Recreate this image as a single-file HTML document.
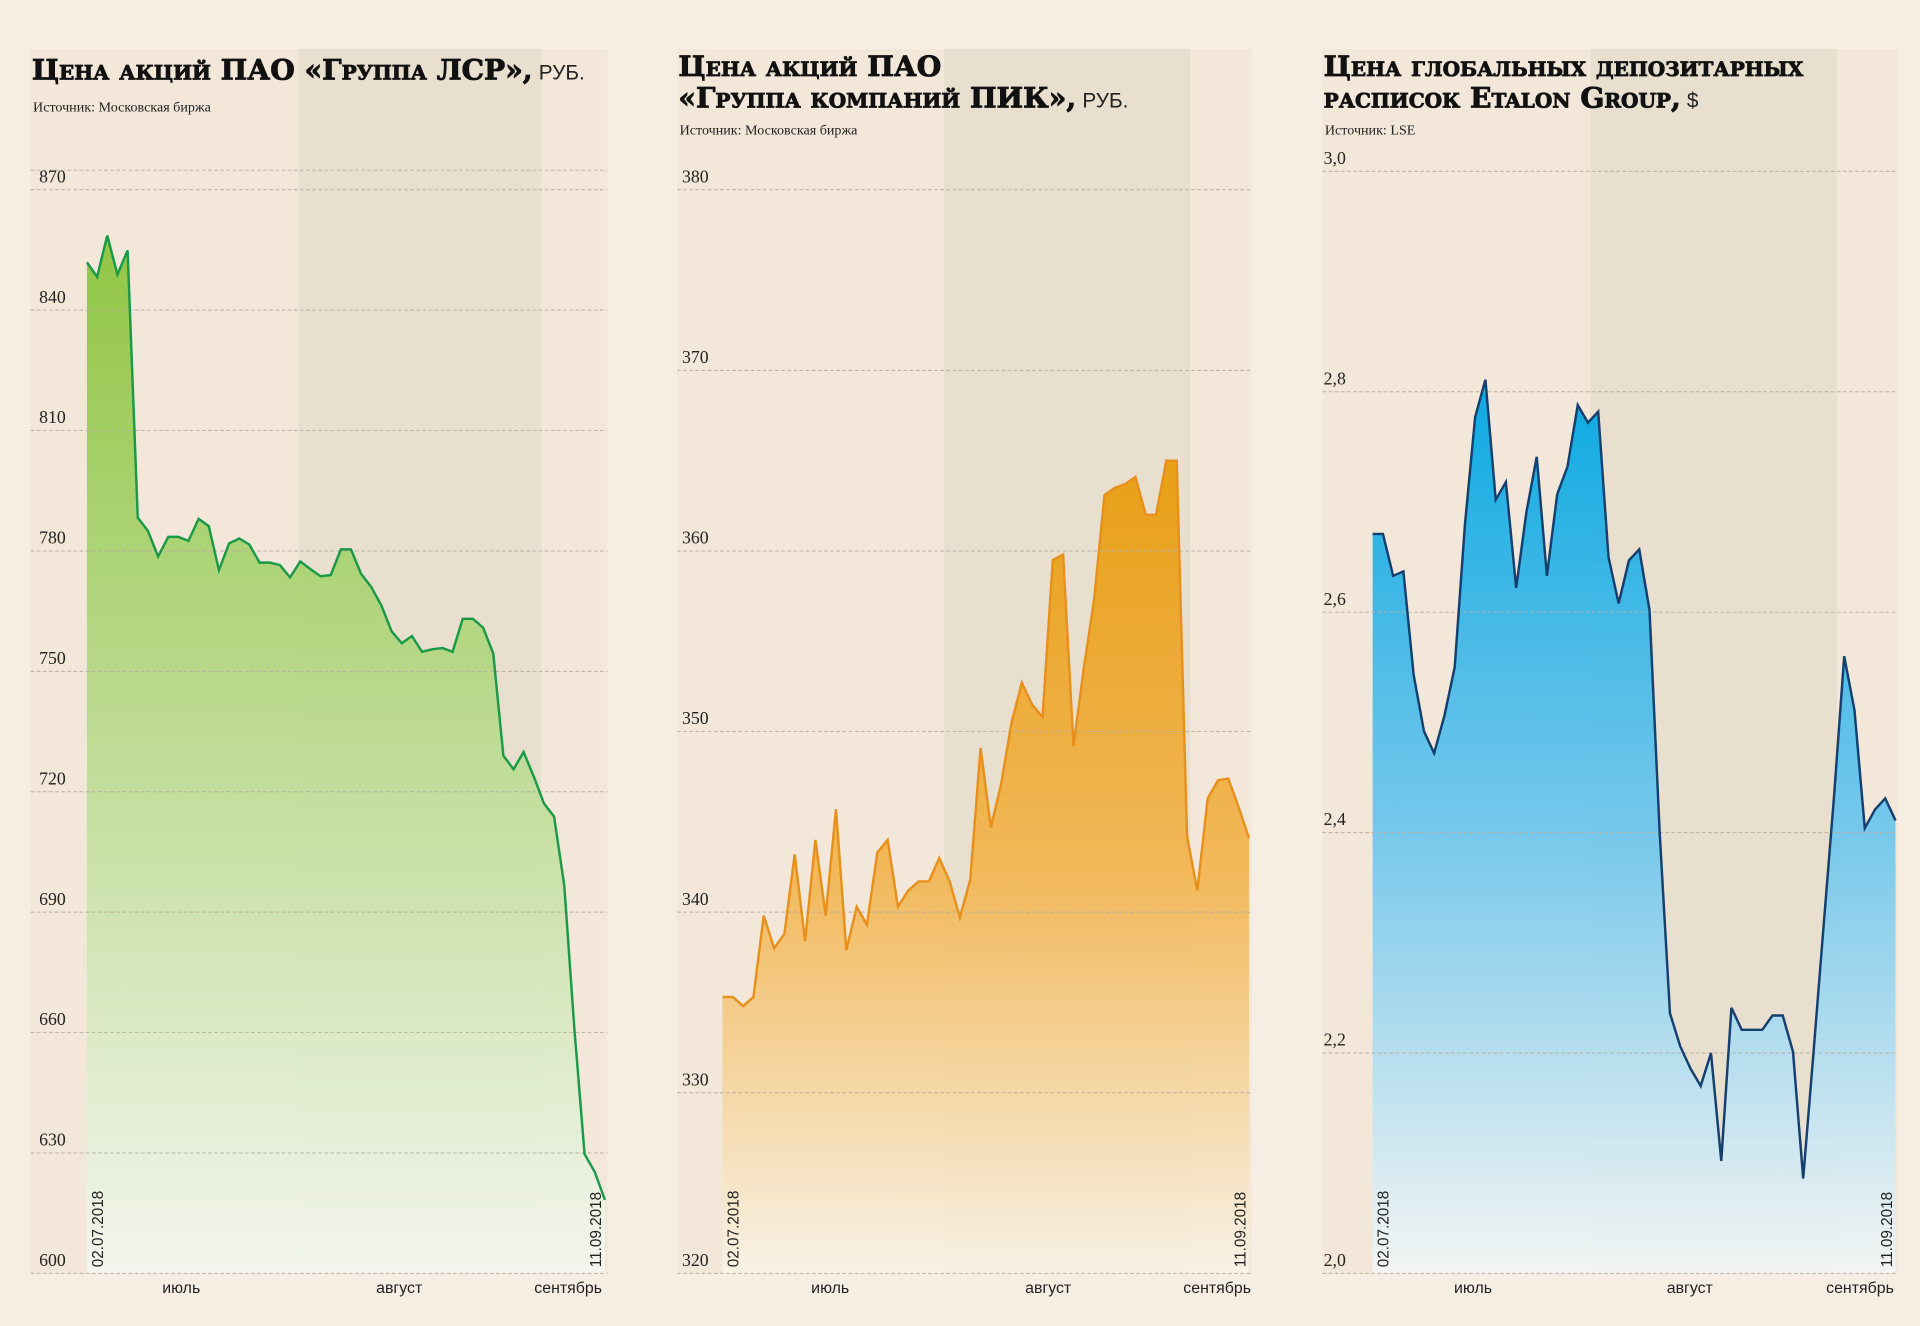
<!DOCTYPE html>
<html><head><meta charset="utf-8"><style>
html,body{margin:0;padding:0;background:#f6eee3;}
svg{display:block}
.title{font-family:"DejaVu Serif","Liberation Serif",serif;font-weight:bold;font-size:23px;font-variant:small-caps;fill:#111;stroke:#111;stroke-width:0.7px;}
.unit{font-family:"Liberation Sans",sans-serif;font-weight:normal;font-variant:normal;font-size:17px;fill:#222;stroke:none}
.src{font-family:"Liberation Serif",serif;font-size:11.5px;fill:#222}
.tick{font-family:"Liberation Serif",serif;font-size:14.5px;fill:#222}
.mon{font-family:"Liberation Sans",sans-serif;font-size:13px;fill:#222}
.date{font-family:"Liberation Sans",sans-serif;font-size:12.5px;fill:#222}
</style></head><body>
<svg id="s" width="1920" height="1326" viewBox="0 0 1568 1083" preserveAspectRatio="none" xmlns="http://www.w3.org/2000/svg">
<defs>
<linearGradient id="gG" x1="0" y1="0" x2="0" y2="1"><stop offset="0" stop-color="#8cc43c"/><stop offset="0.45" stop-color="#b7d98a"/><stop offset="1" stop-color="#f4f6f0"/></linearGradient>
<linearGradient id="gO" x1="0" y1="0" x2="0" y2="1"><stop offset="0" stop-color="#e89c0c"/><stop offset="0.5" stop-color="#f2b552"/><stop offset="1" stop-color="#f8f2e6"/></linearGradient>
<linearGradient id="gB" x1="0" y1="0" x2="0" y2="1"><stop offset="0" stop-color="#00a6e2"/><stop offset="0.5" stop-color="#6fc6ec"/><stop offset="1" stop-color="#f3f5f4"/></linearGradient>
</defs>
</svg>
<script>
const cats1 = ["02.07.2018","11.09.2018"];
const lsrValues = [851.9,848.3,858.6,848.9,854.9,788.3,785,778.6,783.5,783.5,782.5,788,786.2,775.2,781.9,783.1,781.6,777.1,777.1,776.5,773.4,777.4,775.5,773.7,774,780.4,780.4,774.3,771,766.4,760,757,758.8,754.9,755.5,755.8,754.9,763.1,763.1,760.9,754.5,729,725.6,729.9,723.8,717.1,713.8,696.7,660.8,629.7,625.3,618.3];
const pikValues = [335.3,335.3,334.8,335.3,339.8,338,338.8,343.2,338.4,344,339.8,345.7,337.9,340.3,339.3,343.3,344,340.3,341.2,341.7,341.7,343,341.7,339.7,341.8,349.1,344.7,347.1,350.5,352.7,351.5,350.8,359.5,359.8,349.2,353.5,357.3,363.1,363.5,363.7,364.1,362,362,365,365,344.2,341.2,346.3,347.3,347.4,345.8,344.1];
const etalonValues = [2.671,2.671,2.633,2.637,2.543,2.492,2.472,2.506,2.55,2.68,2.777,2.811,2.702,2.718,2.622,2.691,2.741,2.633,2.707,2.732,2.788,2.772,2.782,2.65,2.608,2.647,2.657,2.602,2.4,2.236,2.206,2.186,2.17,2.2,2.102,2.241,2.221,2.221,2.221,2.234,2.234,2.201,2.086,2.2,2.317,2.433,2.56,2.511,2.404,2.421,2.431,2.411];
const lsrTicks = [600,630,660,690,720,750,780,810,840,870];
const pikTicks = [320,330,340,350,360,370,380];
const etalonTicks = [2.0,2.2,2.4,2.6,2.8,3.0];
const monthLabels = ["июль","август","сентябрь"];

const svg=document.getElementById('s');
const NS='http://www.w3.org/2000/svg';
function mk(tag,attrs,parent){const e=document.createElementNS(NS,tag);for(const k in attrs)e.setAttribute(k,attrs[k]);(parent||svg).appendChild(e);return e;}

const panels=[
 {x0:25,x1:496,b0:244,b1:442,px0:71,px1:494,vmin:600,vmax:870,ymax:155,data:lsrValues,ticks:lsrTicks,fmt:v=>String(v),fill:'url(#gG)',stroke:'#1a9a48',lx:32,
  title:['Цена акций ПАО «Группа ЛСР»,'],ty:[65],src:'Источник: Московская биржа',sy:91,mx:[148,326,464],name:'lsr'},
 {x0:553,x1:1022,b0:771,b1:972,px0:590,px1:1020,vmin:320,vmax:380,ymax:155,data:pikValues,ticks:pikTicks,fmt:v=>String(v),fill:'url(#gO)',stroke:'#e8901c',lx:557,
  title:['Цена акций ПАО','«Группа компаний ПИК»,'],ty:[62,88],src:'Источник: Московская биржа',sy:110,mx:[678,856,994],name:'pik'},
 {x0:1080,x1:1550,b0:1299,b1:1500,px0:1121,px1:1548,vmin:2.0,vmax:2.8,ymax:320,data:etalonValues,ticks:etalonTicks,fmt:v=>v.toFixed(1).replace('.',','),fill:'url(#gB)',stroke:'#143f6e',lx:1081,
  title:['Цена глобальных депозитарных','расписок Etalon Group,'],unit:'$',ty:[62,88],src:'Источник: LSE',sy:110,mx:[1203,1380,1519],name:'etalon'}
];
const Y0=1040;
panels.forEach(p=>{
 const g=mk('g',{});
 
 
 const bg=mk('rect',{x:p.x0,y:40,width:p.x1-p.x0,height:Y0-40,fill:'#f2e7d9'},g);
 
 
 const band=mk('rect',{x:p.b0,y:40,width:p.b1-p.b0,height:Y0-40,fill:'#e8dfcf'},g);
 
 
 const yS=v=>Y0-(v-p.vmin)*(Y0-p.ymax)/(p.vmax-p.vmin);
 const xS=i=>p.px0+i*(p.px1-p.px0)/(p.data.length-1);
 let d='M'+xS(0)+','+Y0;
 p.data.forEach((v,i)=>{d+=' L'+xS(i).toFixed(1)+','+yS(v).toFixed(1);});
 d+=' L'+xS(p.data.length-1)+','+Y0+' Z';
 const area=mk('path',{d:d,fill:p.fill,opacity:0.95},g);
 
 
 p.ticks.forEach(t=>{
  const y=yS(t);
  const ln=mk('line',{x1:p.x0,x2:p.x1,y1:y,y2:y,stroke:'#b8b0a4','stroke-width':0.8,'stroke-dasharray':'3,2'},g);
  
  
  const tx=mk('text',{x:p.lx,y:y-6,class:'tick'},g);
  tx.textContent=p.fmt(t);
  
  
 });
 if(p.name==='lsr'){const ln=mk('line',{x1:p.x0,x2:p.x1,y1:139,y2:139,stroke:'#b8b0a4','stroke-width':0.8,'stroke-dasharray':'3,2'},g);
  
  }
 const pts=p.data.map((v,i)=>xS(i).toFixed(1)+','+yS(v).toFixed(1)).join(' ');
 const pl=mk('polyline',{points:pts,fill:'none',stroke:p.stroke,'stroke-width':2,'stroke-linejoin':'miter'},g);
 
 
 p.title.forEach((t,i)=>{
  const tt=mk('text',{x:p.x0+1,y:p.ty[i],class:'title'},g);
  tt.textContent=t;
  
  
  if(i===p.title.length-1){const u=mk('tspan',{class:'unit',dx:5},tt);u.textContent=p.unit||'РУБ.';}
 });
 const s=mk('text',{x:p.x0+2,y:p.sy,class:'src'},g);
 s.textContent=p.src;
 
 
 [[p.px0+13,cats1[0]],[p.px1-3,cats1[1]]].forEach(([x,t])=>{
  const dt=mk('text',{x:x,y:1035,class:'date',transform:'rotate(-90 '+x+' 1035)'},g);
  dt.textContent=t;
  
  
 });
 monthLabels.forEach((m,i)=>{
  const mt=mk('text',{x:p.mx[i],y:1056,class:'mon','text-anchor':'middle'},g);
  mt.textContent=m;
  
  
 });
});
</script>
</body></html>
